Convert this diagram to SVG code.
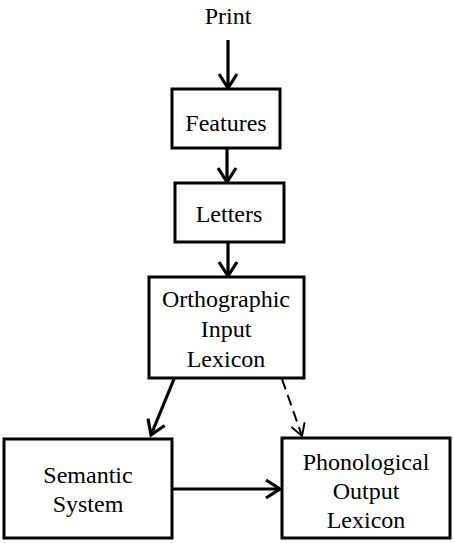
<svg xmlns="http://www.w3.org/2000/svg" width="454" height="543" viewBox="0 0 454 543">
<style>
.box{fill:#fff;stroke:#000;stroke-width:3}
.t{font-family:"Liberation Serif","Times New Roman",serif;font-size:24px;fill:#000;text-anchor:middle}
.c{fill:none;stroke:#000;stroke-width:3.2}
.d{fill:none;stroke:#000;stroke-width:2;stroke-dasharray:11 6}
</style>
<defs>
<marker id="ah" markerUnits="userSpaceOnUse" markerWidth="20" markerHeight="24" refX="15" refY="10" orient="auto" overflow="visible">
<path d="M1,1 L15,10 L1,19" fill="none" stroke="#000" stroke-width="3.2" stroke-linejoin="miter"/>
</marker>
<marker id="ahd" markerUnits="userSpaceOnUse" markerWidth="20" markerHeight="24" refX="13" refY="8" orient="auto" overflow="visible">
<path d="M1,1 L13,8 L1,15" fill="none" stroke="#000" stroke-width="2"/>
</marker>
</defs>
<text class="t" x="228" y="24">Print</text>
<g id="connectors">
<line class="c" x1="228" y1="40" x2="228" y2="88" marker-end="url(#ah)"/>
<line class="c" x1="227" y1="148" x2="227" y2="182" marker-end="url(#ah)"/>
<line class="c" x1="228" y1="242" x2="228" y2="276" marker-end="url(#ah)"/>
<line class="c" x1="174" y1="379" x2="151" y2="435" marker-end="url(#ah)"/>
<line class="d" x1="282" y1="379" x2="302" y2="436" marker-end="url(#ahd)"/>
<line class="c" x1="172" y1="489" x2="280" y2="489" marker-end="url(#ah)"/>
</g>
<g id="features">
<rect class="box" x="172" y="89" width="108" height="59"/>
<text class="t" x="226" y="131">Features</text>
</g>
<g id="letters">
<rect class="box" x="175" y="183" width="109" height="59"/>
<text class="t" x="229" y="222">Letters</text>
</g>
<g id="orthographic">
<rect class="box" x="149" y="277" width="155" height="101"/>
<text class="t" x="226" y="307">Orthographic</text>
<text class="t" x="226" y="337">Input</text>
<text class="t" x="226" y="367">Lexicon</text>
</g>
<g id="semantic">
<rect class="box" x="4" y="439" width="168" height="99"/>
<text class="t" x="88" y="483">Semantic</text>
<text class="t" x="88" y="512">System</text>
</g>
<g id="phonological">
<rect class="box" x="282" y="438" width="168" height="100"/>
<text class="t" x="366" y="470">Phonological</text>
<text class="t" x="366" y="499">Output</text>
<text class="t" x="366" y="528">Lexicon</text>
</g>
</svg>
